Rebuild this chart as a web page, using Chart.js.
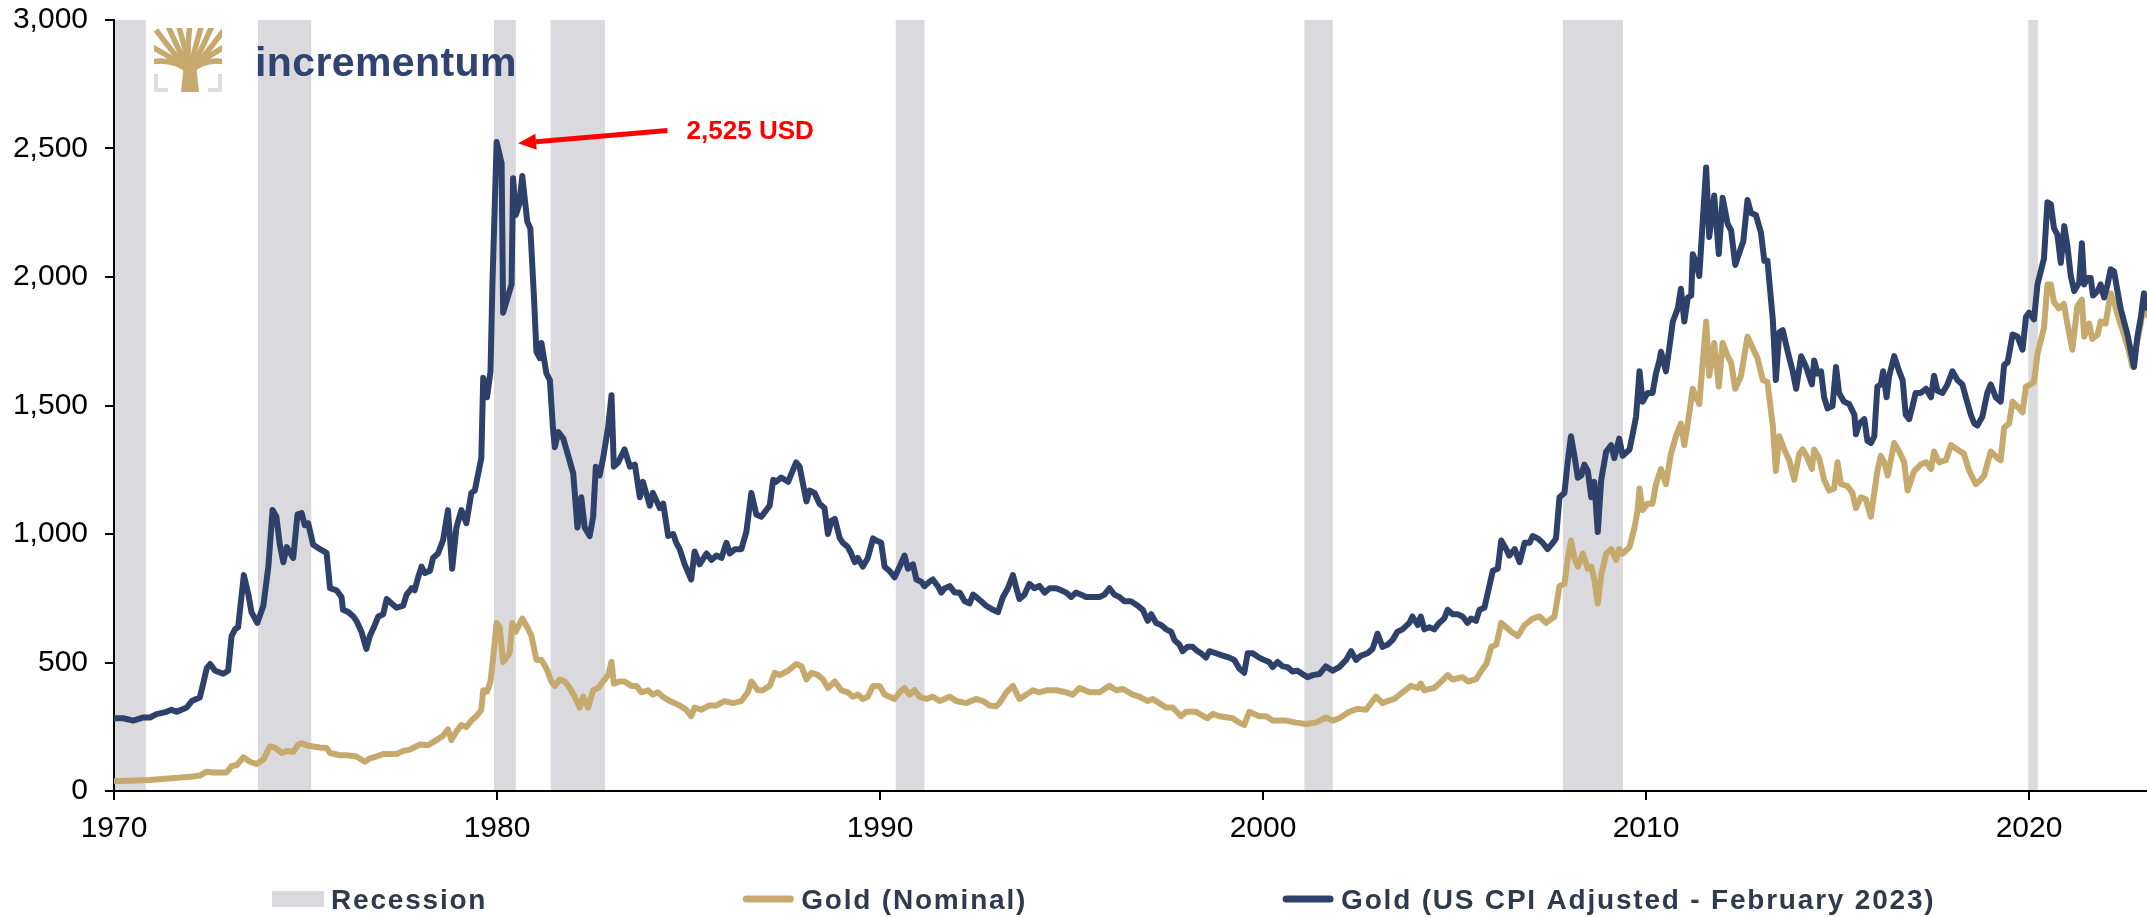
<!DOCTYPE html>
<html>
<head>
<meta charset="utf-8">
<script src="https://cdn.jsdelivr.net/npm/chart.js@4.4.0/dist/chart.umd.min.js"></script>
<style>
html, body { margin: 0; padding: 0; background: #fff; }
#wrap { width: 2147px; height: 917px; }
</style>
</head>
<body>
<div id="wrap"><canvas id="goldChart" width="2147" height="917"></canvas></div>
<script>
// axis ticks
const xTicks = [1970, 1980, 1990, 2000, 2010, 2020];
const yTicks = [0, 500, 1000, 1500, 2000, 2500, 3000];

// US recessions (decimal years)
const recessionStart = [1969.90, 1973.76, 1979.92, 1981.40, 1990.41, 2001.08, 2007.83, 2019.98];
const recessionEnd   = [1970.83, 1975.15, 1980.49, 1982.82, 1991.16, 2001.82, 2009.40, 2020.23];

// Gold, US CPI adjusted (Feb 2023 USD)
const realYears = [
  1970.00, 1970.24, 1970.50, 1970.77, 1970.94, 1971.11, 1971.37, 1971.50, 1971.64, 1971.90,
  1972.03, 1972.24, 1972.33, 1972.42, 1972.51, 1972.64, 1972.85, 1972.98, 1973.07, 1973.16,
  1973.24, 1973.39, 1973.51, 1973.59, 1973.74, 1973.90, 1974.03, 1974.14, 1974.24, 1974.33,
  1974.42, 1974.51, 1974.68, 1974.79, 1974.90, 1974.98, 1975.07, 1975.20, 1975.38, 1975.55,
  1975.64, 1975.81, 1975.94, 1975.98, 1976.12, 1976.25, 1976.33, 1976.46, 1976.59, 1976.68,
  1976.81, 1976.90, 1977.03, 1977.12, 1977.25, 1977.38, 1977.55, 1977.64, 1977.77, 1977.85,
  1977.94, 1978.03, 1978.12, 1978.25, 1978.33, 1978.46, 1978.59, 1978.72, 1978.83, 1978.94,
  1979.07, 1979.20, 1979.33, 1979.42, 1979.51, 1979.59, 1979.64, 1979.74, 1979.83, 1979.88,
  1979.99, 1980.12, 1980.16, 1980.38, 1980.42, 1980.49, 1980.58, 1980.66, 1980.79, 1980.87,
  1980.96, 1981.03, 1981.12, 1981.16, 1981.29, 1981.38, 1981.46, 1981.51, 1981.60, 1981.73,
  1981.86, 1981.99, 1982.10, 1982.20, 1982.29, 1982.42, 1982.51, 1982.58, 1982.68, 1982.77,
  1982.90, 1982.99, 1983.05, 1983.16, 1983.33, 1983.47, 1983.60, 1983.73, 1983.81, 1983.99,
  1984.07, 1984.25, 1984.34, 1984.47, 1984.60, 1984.68, 1984.77, 1984.90, 1985.07, 1985.16,
  1985.29, 1985.47, 1985.60, 1985.73, 1985.86, 1985.99, 1986.08, 1986.21, 1986.38, 1986.51,
  1986.64, 1986.77, 1986.90, 1987.03, 1987.12, 1987.21, 1987.29, 1987.42, 1987.60, 1987.81,
  1987.90, 1987.99, 1988.08, 1988.16, 1988.29, 1988.42, 1988.55, 1988.64, 1988.73, 1988.82,
  1988.95, 1989.03, 1989.16, 1989.25, 1989.34, 1989.42, 1989.55, 1989.68, 1989.82, 1989.90,
  1990.03, 1990.12, 1990.25, 1990.38, 1990.51, 1990.64, 1990.73, 1990.86, 1990.95, 1991.08,
  1991.16, 1991.29, 1991.38, 1991.51, 1991.60, 1991.69, 1991.82, 1991.95, 1992.08, 1992.21,
  1992.34, 1992.43, 1992.51, 1992.64, 1992.77, 1992.95, 1993.08, 1993.21, 1993.34, 1993.47,
  1993.56, 1993.64, 1993.77, 1993.90, 1994.03, 1994.16, 1994.30, 1994.43, 1994.60, 1994.73,
  1994.86, 1994.99, 1995.12, 1995.25, 1995.38, 1995.56, 1995.73, 1995.86, 1995.99, 1996.12,
  1996.25, 1996.38, 1996.55, 1996.73, 1996.86, 1996.99, 1997.08, 1997.21, 1997.34, 1997.47,
  1997.60, 1997.69, 1997.82, 1997.90, 1998.03, 1998.16, 1998.29, 1998.38, 1998.51, 1998.60,
  1998.77, 1998.95, 1999.12, 1999.25, 1999.38, 1999.51, 1999.60, 1999.73, 1999.90, 2000.03,
  2000.16, 2000.25, 2000.38, 2000.51, 2000.64, 2000.77, 2000.90, 2001.03, 2001.16, 2001.30,
  2001.47, 2001.64, 2001.82, 2001.99, 2002.17, 2002.30, 2002.43, 2002.56, 2002.73, 2002.86,
  2002.99, 2003.12, 2003.25, 2003.38, 2003.51, 2003.64, 2003.82, 2003.90, 2004.04, 2004.12,
  2004.21, 2004.34, 2004.47, 2004.60, 2004.73, 2004.82, 2004.95, 2005.08, 2005.21, 2005.34,
  2005.43, 2005.56, 2005.65, 2005.78, 2005.87, 2006.00, 2006.13, 2006.22, 2006.35, 2006.43,
  2006.57, 2006.70, 2006.83, 2006.96, 2007.04, 2007.17, 2007.30, 2007.43, 2007.57, 2007.65,
  2007.74, 2007.87, 2007.96, 2008.04, 2008.13, 2008.22, 2008.31, 2008.39, 2008.48, 2008.57,
  2008.65, 2008.74, 2008.83, 2008.96, 2009.09, 2009.17, 2009.30, 2009.39, 2009.57, 2009.65,
  2009.74, 2009.83, 2009.91, 2010.04, 2010.17, 2010.26, 2010.35, 2010.39, 2010.52, 2010.61,
  2010.70, 2010.83, 2010.91, 2011.00, 2011.09, 2011.18, 2011.22, 2011.31, 2011.39, 2011.57,
  2011.65, 2011.78, 2011.90, 2012.00, 2012.13, 2012.22, 2012.33, 2012.48, 2012.54, 2012.65,
  2012.74, 2012.87, 2013.00, 2013.09, 2013.17, 2013.31, 2013.39, 2013.48, 2013.57, 2013.70,
  2013.83, 2013.92, 2014.05, 2014.18, 2014.33, 2014.39, 2014.48, 2014.57, 2014.65, 2014.74,
  2014.87, 2014.96, 2015.04, 2015.17, 2015.30, 2015.44, 2015.48, 2015.57, 2015.70, 2015.78,
  2015.87, 2015.96, 2016.04, 2016.13, 2016.19, 2016.28, 2016.35, 2016.48, 2016.61, 2016.70,
  2016.78, 2016.87, 2016.96, 2017.04, 2017.17, 2017.31, 2017.44, 2017.52, 2017.61, 2017.74,
  2017.87, 2018.00, 2018.13, 2018.26, 2018.35, 2018.48, 2018.57, 2018.65, 2018.78, 2018.91,
  2019.00, 2019.13, 2019.26, 2019.35, 2019.44, 2019.57, 2019.70, 2019.83, 2019.92, 2020.00,
  2020.13, 2020.22, 2020.39, 2020.48, 2020.57, 2020.65, 2020.74, 2020.83, 2020.92, 2021.00,
  2021.09, 2021.18, 2021.31, 2021.38, 2021.44, 2021.52, 2021.61, 2021.67, 2021.79, 2021.87,
  2021.96, 2022.05, 2022.13, 2022.22, 2022.31, 2022.39, 2022.48, 2022.57, 2022.66, 2022.74,
  2022.83, 2022.92, 2023.00, 2023.06
];
const realValues = [
  283, 283, 274, 286, 286, 299, 308, 316, 308, 325,
  350, 364, 418, 477, 494, 468, 456, 468, 603, 629,
  637, 840, 764, 696, 654, 721, 873, 1093, 1067, 958,
  890, 949, 907, 1076, 1081, 1034, 1042, 958, 941, 927,
  789, 781, 755, 705, 696, 679, 662, 620, 553, 603,
  646, 679, 688, 747, 730, 713, 721, 764, 789, 781,
  831, 873, 848, 857, 907, 924, 975, 1093, 865, 1025,
  1093, 1042, 1160, 1169, 1236, 1295, 1608, 1532, 1633, 1971,
  2525, 2443, 1861, 1971, 2384, 2241, 2283, 2393, 2215, 2190,
  1937, 1709, 1684, 1743, 1625, 1599, 1414, 1338, 1397, 1371,
  1304, 1236, 1025, 1143, 1025, 992, 1067, 1262, 1228, 1295,
  1414, 1540, 1262, 1278, 1329, 1262, 1270, 1143, 1203, 1110,
  1160, 1101, 1118, 992, 1000, 966, 941, 882, 823, 932,
  882, 924, 899, 916, 907, 966, 924, 941, 941, 1008,
  1160, 1076, 1067, 1093, 1110, 1211, 1203, 1220, 1203, 1279,
  1262, 1194, 1127, 1169, 1160, 1118, 1101, 1000, 1051, 1059,
  983, 966, 949, 924, 890, 907, 873, 907, 983, 975,
  966, 873, 856, 831, 873, 916, 865, 882, 823, 814,
  797, 814, 823, 797, 772, 789, 797, 772, 772, 738,
  730, 764, 755, 738, 721, 705, 696, 755, 789, 840,
  789, 747, 764, 806, 789, 798, 772, 789, 789, 781,
  772, 755, 772, 764, 755, 755, 755, 764, 789, 764,
  755, 738, 738, 721, 705, 662, 688, 654, 646, 629,
  620, 587, 569, 544, 561, 561, 544, 536, 519, 544,
  536, 527, 519, 510, 477, 460, 536, 536, 519, 510,
  502, 482, 502, 485, 482, 465, 468, 455, 443, 451,
  455, 485, 468, 482, 510, 544, 510, 527, 536, 553,
  612, 561, 569, 587, 620, 629, 654, 679, 646, 679,
  629, 637, 629, 654, 671, 705, 688, 688, 679, 654,
  671, 662, 705, 713, 772, 857, 865, 975, 941, 916,
  941, 890, 966, 966, 992, 983, 966, 941, 966, 983,
  1143, 1160, 1287, 1380, 1304, 1219, 1228, 1270, 1245, 1143,
  1203, 1008, 1211, 1321, 1346, 1295, 1371, 1304, 1329, 1388,
  1456, 1633, 1515, 1549, 1549, 1625, 1675, 1709, 1633, 1726,
  1827, 1878, 1954, 1827, 1920, 1928, 2089, 2055, 2004, 2426,
  2156, 2317, 2089, 2308, 2207, 2182, 2047, 2114, 2139, 2300,
  2249, 2241, 2173, 2063, 2063, 1835, 1599, 1785, 1793, 1709,
  1633, 1565, 1692, 1650, 1582, 1675, 1624, 1633, 1532, 1489,
  1498, 1650, 1549, 1515, 1506, 1464, 1388, 1430, 1447, 1363,
  1354, 1380, 1574, 1582, 1633, 1532, 1616, 1692, 1633, 1599,
  1464, 1447, 1498, 1549, 1549, 1565, 1532, 1616, 1557, 1549,
  1582, 1633, 1599, 1582, 1532, 1464, 1430, 1422, 1456, 1549,
  1582, 1532, 1515, 1658, 1667, 1776, 1768, 1717, 1844, 1861,
  1835, 1971, 2072, 2291, 2283, 2190, 2165, 2055, 2198, 2123,
  2004, 1945, 1979, 2131, 1971, 1996, 1996, 1928, 1945, 1971,
  1920, 1971, 2030, 2021, 1945, 1878, 1827, 1776, 1709, 1650,
  1768, 1844, 1937, 1880
];

// Gold, nominal USD
const nominalYears = [
  1970.00, 1970.94, 1971.98, 1972.24, 1972.42, 1972.59, 1972.94, 1973.07, 1973.20, 1973.38,
  1973.55, 1973.72, 1973.90, 1974.07, 1974.20, 1974.38, 1974.51, 1974.68, 1974.81, 1974.90,
  1975.03, 1975.20, 1975.38, 1975.55, 1975.64, 1975.90, 1976.07, 1976.33, 1976.55, 1976.68,
  1976.85, 1977.03, 1977.38, 1977.55, 1977.72, 1977.99, 1978.20, 1978.33, 1978.46, 1978.59,
  1978.72, 1978.81, 1978.94, 1979.07, 1979.20, 1979.33, 1979.46, 1979.59, 1979.64, 1979.74,
  1979.83, 1979.90, 1979.99, 1980.07, 1980.16, 1980.33, 1980.40, 1980.49, 1980.66, 1980.79,
  1980.90, 1981.03, 1981.16, 1981.29, 1981.42, 1981.51, 1981.64, 1981.77, 1981.90, 1982.03,
  1982.16, 1982.25, 1982.38, 1982.51, 1982.64, 1982.77, 1982.90, 1982.99, 1983.05, 1983.20,
  1983.33, 1983.51, 1983.64, 1983.77, 1983.94, 1984.07, 1984.20, 1984.33, 1984.51, 1984.64,
  1984.77, 1984.94, 1985.07, 1985.16, 1985.33, 1985.55, 1985.73, 1985.94, 1986.16, 1986.38,
  1986.55, 1986.64, 1986.81, 1986.94, 1987.12, 1987.25, 1987.38, 1987.60, 1987.81, 1987.95,
  1988.08, 1988.21, 1988.38, 1988.51, 1988.64, 1988.82, 1988.99, 1989.16, 1989.29, 1989.42,
  1989.55, 1989.68, 1989.82, 1989.99, 1990.12, 1990.25, 1990.38, 1990.51, 1990.64, 1990.77,
  1990.90, 1991.03, 1991.21, 1991.38, 1991.56, 1991.82, 1991.99, 1992.25, 1992.51, 1992.69,
  1992.86, 1993.03, 1993.12, 1993.30, 1993.47, 1993.64, 1993.82, 1993.99, 1994.16, 1994.34,
  1994.60, 1994.86, 1995.03, 1995.21, 1995.47, 1995.73, 1995.99, 1996.17, 1996.34, 1996.60,
  1996.77, 1996.99, 1997.12, 1997.29, 1997.47, 1997.64, 1997.86, 1997.99, 1998.25, 1998.55,
  1998.69, 1998.86, 1999.21, 1999.38, 1999.51, 1999.64, 1999.90, 2000.08, 2000.25, 2000.60,
  2000.86, 2001.12, 2001.38, 2001.64, 2001.82, 2001.99, 2002.25, 2002.47, 2002.69, 2002.95,
  2003.12, 2003.25, 2003.43, 2003.64, 2003.86, 2004.04, 2004.12, 2004.21, 2004.47, 2004.60,
  2004.82, 2004.95, 2005.21, 2005.35, 2005.56, 2005.70, 2005.83, 2005.96, 2006.09, 2006.22,
  2006.35, 2006.48, 2006.65, 2006.83, 2007.04, 2007.22, 2007.39, 2007.61, 2007.74, 2007.87,
  2007.96, 2008.04, 2008.13, 2008.22, 2008.35, 2008.48, 2008.57, 2008.65, 2008.74, 2008.83,
  2008.96, 2009.09, 2009.22, 2009.30, 2009.39, 2009.57, 2009.70, 2009.78, 2009.83, 2009.91,
  2010.04, 2010.17, 2010.26, 2010.39, 2010.52, 2010.65, 2010.78, 2010.91, 2011.00, 2011.09,
  2011.22, 2011.31, 2011.39, 2011.57, 2011.65, 2011.78, 2011.90, 2012.00, 2012.13, 2012.22,
  2012.33, 2012.48, 2012.65, 2012.78, 2012.91, 2013.05, 2013.17, 2013.31, 2013.39, 2013.48,
  2013.61, 2013.74, 2013.87, 2014.00, 2014.09, 2014.19, 2014.33, 2014.39, 2014.52, 2014.65,
  2014.78, 2014.91, 2015.00, 2015.09, 2015.26, 2015.39, 2015.48, 2015.61, 2015.74, 2015.87,
  2016.04, 2016.13, 2016.22, 2016.31, 2016.48, 2016.61, 2016.74, 2016.83, 2017.00, 2017.17,
  2017.31, 2017.44, 2017.52, 2017.65, 2017.83, 2017.96, 2018.13, 2018.30, 2018.44, 2018.61,
  2018.74, 2018.83, 2019.00, 2019.18, 2019.26, 2019.35, 2019.48, 2019.57, 2019.74, 2019.83,
  2019.92, 2020.00, 2020.13, 2020.22, 2020.39, 2020.48, 2020.57, 2020.65, 2020.78, 2020.91,
  2021.00, 2021.13, 2021.26, 2021.38, 2021.44, 2021.57, 2021.65, 2021.79, 2021.87, 2022.00,
  2022.13, 2022.22, 2022.35, 2022.48, 2022.61, 2022.70, 2022.78, 2022.92, 2023.00, 2023.06
];
const nominalValues = [
  38, 43, 55, 60, 75, 72, 72, 97, 100, 131,
  114, 105, 122, 173, 169, 148, 156, 153, 181, 186,
  178, 173, 169, 167, 148, 139, 139, 134, 114, 127,
  134, 144, 144, 156, 161, 181, 178, 190, 202, 215,
  240, 198, 232, 257, 249, 274, 291, 316, 392, 387,
  426, 519, 654, 637, 502, 536, 654, 620, 671, 637,
  603, 510, 510, 477, 426, 409, 434, 426, 401, 367,
  325, 367, 325, 392, 401, 426, 451, 502, 418, 426,
  426, 409, 409, 384, 392, 375, 384, 367, 350, 342,
  333, 316, 291, 325, 316, 333, 333, 350, 342, 350,
  384, 426, 392, 392, 409, 460, 451, 468, 494, 485,
  434, 460, 451, 434, 401, 426, 392, 384, 367, 375,
  358, 367, 409, 409, 375, 367, 358, 384, 401, 375,
  392, 367, 358, 367, 350, 367, 350, 342, 358, 350,
  333, 330, 342, 384, 409, 358, 375, 392, 384, 392,
  392, 384, 375, 401, 384, 384, 409, 392, 397, 375,
  367, 350, 358, 342, 325, 325, 291, 308, 308, 283,
  300, 291, 283, 266, 257, 308, 291, 291, 274, 274,
  266, 261, 266, 286, 274, 283, 308, 320, 316, 367,
  342, 350, 358, 384, 409, 401, 418, 392, 401, 418,
  451, 434, 443, 426, 434, 468, 494, 561, 569, 654,
  637, 620, 603, 646, 671, 679, 654, 679, 797, 806,
  907, 975, 907, 873, 924, 865, 873, 823, 730, 840,
  924, 941, 899, 941, 924, 949, 1025, 1093, 1177, 1093,
  1118, 1118, 1194, 1253, 1194, 1312, 1380, 1430, 1346, 1430,
  1565, 1532, 1506, 1827, 1616, 1743, 1574, 1743, 1692, 1667,
  1565, 1616, 1768, 1726, 1684, 1599, 1591, 1422, 1245, 1380,
  1329, 1287, 1211, 1312, 1329, 1304, 1253, 1329, 1295, 1211,
  1169, 1177, 1279, 1194, 1186, 1160, 1101, 1143, 1135, 1067,
  1245, 1304, 1279, 1228, 1354, 1321, 1279, 1169, 1245, 1270,
  1279, 1253, 1321, 1279, 1287, 1346, 1329, 1312, 1245, 1194,
  1211, 1228, 1321, 1295, 1287, 1414, 1430, 1515, 1489, 1473,
  1574, 1579, 1591, 1700, 1802, 1971, 1971, 1903, 1878, 1895,
  1819, 1717, 1886, 1912, 1768, 1819, 1759, 1776, 1827, 1819,
  1937, 1903, 1835, 1776, 1709, 1650, 1717, 1819, 1912, 1853
];

// callout for the 1980 high
const peakLabel = '2,525 USD';
const arrowTip = { x: 1980.55, y: 2520 };
const arrowTail = { x: 1984.45, y: 2570 };
const labelAt = { x: 1984.95, y: 2565 };

const NAVY = '#2e416b';
const GOLD = '#c5a96d';
const GREY = '#dad9dd';
const LEGEND_TEXT = '#2f3b4c';
const FONT = '"Liberation Sans", Arial, Helvetica, sans-serif';

const toPoints = (xs, ys) => xs.map((x, i) => ({ x: x, y: ys[i] }));

const recessionBands = {
    id: 'recessionBands',
    beforeDraw(chart) {
        const { ctx, chartArea, scales: { x } } = chart;
        ctx.save();
        ctx.fillStyle = GREY;
        recessionStart.forEach((s, i) => {
            const x0 = Math.max(x.getPixelForValue(s), chartArea.left + 1);
            const x1 = x.getPixelForValue(recessionEnd[i]);
            ctx.fillRect(x0, chartArea.top, x1 - x0, chartArea.bottom - chartArea.top);
        });
        ctx.restore();
    }
};

const logo = {
    id: 'logo',
    beforeDraw(chart) {
        const ctx = chart.ctx;
        ctx.save();
        // grey corner brackets
        ctx.fillStyle = '#dcdcdf';
        ctx.fillRect(154, 74, 4, 18);
        ctx.fillRect(154, 88, 14, 4);
        ctx.fillRect(218, 74, 4, 18);
        ctx.fillRect(208, 88, 14, 4);
        // tree
        ctx.beginPath();
        ctx.rect(154, 28, 68, 64);
        ctx.clip();
        ctx.fillStyle = GOLD;
        ctx.beginPath();
        ctx.moveTo(181, 92); ctx.lineTo(199, 92); ctx.lineTo(196, 64); ctx.lineTo(184, 64);
        ctx.closePath();
        ctx.fill();
        ctx.strokeStyle = GOLD;
        ctx.lineWidth = 5.5;
        ctx.lineCap = 'butt';
        const ends = [[150, 46], [150, 62], [156, 30], [167, 24], [178, 24], [190, 24],
                      [202, 24], [213, 24], [224, 30], [226, 46], [226, 62]];
        ends.forEach(([ex, ey]) => {
            ctx.beginPath();
            ctx.moveTo(190, 72);
            ctx.quadraticCurveTo((190 + ex) / 2 + (ex < 190 ? 4 : -4), 58, ex, ey);
            ctx.stroke();
        });
        ctx.restore();

        ctx.save();
        ctx.fillStyle = '#2f4270';
        ctx.font = 'bold 41px ' + FONT;
        ctx.letterSpacing = '0.4px';
        ctx.textBaseline = 'alphabetic';
        ctx.fillText('incrementum', 255, 76);
        ctx.restore();
    }
};

const callout = {
    id: 'callout',
    afterDraw(chart) {
        const { ctx, scales: { x, y } } = chart;
        const tx = x.getPixelForValue(arrowTip.x), ty = y.getPixelForValue(arrowTip.y);
        const sx = x.getPixelForValue(arrowTail.x), sy = y.getPixelForValue(arrowTail.y);
        const ang = Math.atan2(ty - sy, tx - sx);
        const head = 18, half = 8;
        const bx = tx - head * Math.cos(ang), by = ty - head * Math.sin(ang);
        ctx.save();
        ctx.strokeStyle = '#ff0000';
        ctx.fillStyle = '#ff0000';
        ctx.lineWidth = 5;
        ctx.beginPath();
        ctx.moveTo(sx, sy);
        ctx.lineTo(bx, by);
        ctx.stroke();
        ctx.beginPath();
        ctx.moveTo(tx, ty);
        ctx.lineTo(bx + half * Math.sin(ang), by - half * Math.cos(ang));
        ctx.lineTo(bx - half * Math.sin(ang), by + half * Math.cos(ang));
        ctx.closePath();
        ctx.fill();
        ctx.font = 'bold 26px ' + FONT;
        ctx.textBaseline = 'middle';
        ctx.textAlign = 'left';
        ctx.fillText(peakLabel, x.getPixelForValue(labelAt.x), y.getPixelForValue(labelAt.y));
        ctx.restore();
    }
};

const bottomLegend = {
    id: 'bottomLegend',
    afterDraw(chart) {
        const ctx = chart.ctx;
        const items = [{ label: 'Recession', color: GREY, box: true }];
        chart.data.datasets.forEach(ds => items.push({ label: ds.label, color: ds.borderColor, box: false }));
        const cy = 899;
        let x = 272;
        ctx.save();
        ctx.font = 'bold 28px ' + FONT;
        ctx.letterSpacing = '1.8px';
        ctx.textAlign = 'left';
        ctx.textBaseline = 'alphabetic';
        items.forEach(it => {
            if (it.box) {
                ctx.fillStyle = it.color;
                ctx.fillRect(x, cy - 8, 52, 16);
            } else {
                ctx.strokeStyle = it.color;
                ctx.lineWidth = 7;
                ctx.lineCap = 'round';
                ctx.beginPath();
                ctx.moveTo(x + 4, cy);
                ctx.lineTo(x + 48, cy);
                ctx.stroke();
            }
            ctx.fillStyle = LEGEND_TEXT;
            ctx.fillText(it.label, x + 59, cy + 9.5);
            x += 59 + ctx.measureText(it.label).width + 255;
        });
        ctx.restore();
    }
};

const tickFont = { family: FONT, size: 30 };

new Chart(document.getElementById('goldChart').getContext('2d'), {
    type: 'line',
    data: {
        datasets: [
            {
                label: 'Gold (Nominal)',
                data: toPoints(nominalYears, nominalValues),
                borderColor: GOLD,
                borderWidth: 6,
                order: 2
            },
            {
                label: 'Gold (US CPI Adjusted - February 2023)',
                data: toPoints(realYears, realValues),
                borderColor: NAVY,
                borderWidth: 6,
                order: 1
            }
        ]
    },
    options: {
        responsive: false,
        animation: false,
        layout: { padding: { top: 20, right: 0, bottom: 66, left: 0 } },
        elements: {
            point: { radius: 0 },
            line: { tension: 0, borderJoinStyle: 'round', borderCapStyle: 'round' }
        },
        plugins: {
            legend: { display: false },
            tooltip: { enabled: false }
        },
        scales: {
            x: {
                type: 'linear',
                min: 1970,
                max: 2023.08,
                afterBuildTicks: s => { s.ticks = xTicks.map(v => ({ value: v })); },
                afterFit: s => { s.height = 60; s.paddingLeft = 0; s.paddingRight = 0; },
                ticks: {
                    callback: v => String(v),
                    font: tickFont,
                    color: '#000',
                    padding: 11,
                    maxRotation: 0,
                    autoSkip: false
                },
                grid: { display: true, drawOnChartArea: false, drawTicks: true, tickLength: 9, color: '#000', lineWidth: 2 },
                border: { display: true, color: '#000', width: 2 }
            },
            y: {
                type: 'linear',
                min: 0,
                max: 3000,
                afterBuildTicks: s => { s.ticks = yTicks.map(v => ({ value: v })); },
                afterFit: s => { s.width = 114; s.paddingTop = 0; s.paddingBottom = 0; },
                ticks: {
                    callback: v => v.toLocaleString('en-US'),
                    font: tickFont,
                    color: '#000',
                    padding: 17
                },
                grid: { display: true, drawOnChartArea: false, drawTicks: true, tickLength: 9, color: '#000', lineWidth: 2 },
                border: { display: true, color: '#000', width: 2 }
            }
        }
    },
    plugins: [recessionBands, logo, callout, bottomLegend]
});
</script>
</body>
</html>
